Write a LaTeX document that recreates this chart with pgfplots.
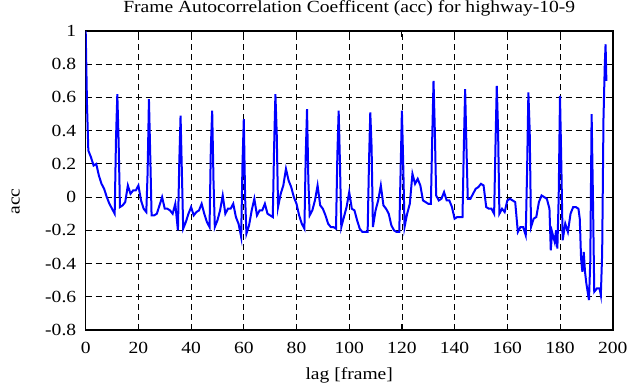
\documentclass[border=0pt]{standalone}
\usepackage{fontspec}
\setmainfont[FakeStretch=1.15]{Liberation Serif}
\usepackage{pgfplots}
\pgfplotsset{compat=1.18}
\pgfplotstableread{
x y
0 1.00
0.5 0.55
1 0.28
2 0.24
3 0.19
4 0.20
5 0.13
6 0.08
7 0.05
8 0.00
9 -0.04
10 -0.07
11 -0.10
11.5 0.35
12 0.62
12.5 0.33
13 -0.06
14 -0.05
15 -0.03
16 0.07
17 0.02
18 0.04
19 0.04
20 0.07
21 -0.02
22 -0.07
23 -0.09
23.5 0.15
24 0.59
24.5 0.25
25 -0.11
26 -0.11
27 -0.10
28 -0.05
29 0.00
30 -0.07
31 -0.07
32 -0.08
33 -0.10
34 -0.04
35 -0.20
35.5 0.20
36 0.49
36.5 0.15
37 -0.19
38 -0.15
39 -0.10
40 -0.06
41 -0.11
42 -0.09
43 -0.08
44 -0.04
45 -0.10
46 -0.15
47 -0.18
47.5 0.30
48 0.52
48.5 0.10
49 -0.18
50 -0.14
51 -0.08
52 0.01
53 -0.10
54 -0.07
55 -0.07
56 -0.04
57 -0.12
58 -0.16
59 -0.24
59.5 0.20
60 0.47
60.5 0.00
61 -0.22
62 -0.17
63 -0.08
64 -0.01
65 -0.11
66 -0.08
67 -0.08
68 -0.04
69 -0.10
70 -0.11
71 -0.12
71.5 0.30
72 0.62
72.5 0.38
73 -0.06
74 0.02
75 0.07
76 0.17
77 0.10
78 0.06
79 0.00
80 -0.04
81 -0.11
82 -0.16
83 -0.19
83.5 0.25
84 0.53
84.5 0.10
85 -0.11
86 -0.08
87 -0.02
88 0.07
89 -0.05
90 -0.07
91 -0.11
92 -0.16
93 -0.18
94 -0.18
95 -0.19
95.5 0.25
96 0.52
96.5 0.20
97 -0.18
98 -0.12
99 -0.06
100 0.03
101 -0.07
102 -0.08
103 -0.14
104 -0.19
105 -0.21
106 -0.21
107 -0.21
107.5 0.20
108 0.51
108.5 0.30
109 -0.18
110 -0.08
111 -0.02
112 0.07
113 -0.05
114 -0.07
115 -0.10
116 -0.17
117 -0.20
118 -0.21
119 -0.21
119.5 0.15
120 0.52
120.5 0.20
121 -0.18
122 -0.10
123 -0.04
124 0.14
125 0.08
126 0.11
127 0.07
128 -0.02
129 -0.03
130 -0.04
131 -0.04
131.5 0.35
132 0.70
132.5 0.40
133 0.01
134 -0.02
135 -0.01
136 0.03
137 -0.02
138 -0.02
139 -0.06
140 -0.13
141 -0.12
142 -0.12
143 -0.12
143.5 0.30
144 0.65
144.5 0.30
145 -0.01
146 -0.01
147 0.02
148 0.05
149 0.06
150 0.08
151 0.07
152 -0.06
153 -0.07
154 -0.07
155 -0.10
155.5 0.30
156 0.67
156.5 0.40
157 -0.10
158 -0.07
159 -0.09
160 -0.02
161 -0.01
162 -0.02
163 -0.03
164 -0.21
165 -0.18
166 -0.18
167 -0.23
167.5 0.15
168 0.63
168.5 0.40
169 -0.18
170 -0.13
171 -0.12
172 -0.03
173 0.01
174 0.00
175 -0.01
176 -0.07
176.5 -0.32
177 -0.21
178 -0.27
178.5 -0.20
179 -0.31
179.5 0.00
180 0.61
180.5 0.20
181 -0.26
182 -0.16
183 -0.21
184 -0.10
185 -0.06
186 -0.06
187 -0.07
187.5 -0.13
188 -0.37
188.5 -0.45
189 -0.33
189.5 -0.45
190 -0.52
191 -0.62
191.5 -0.38
192 0.50
192.5 0.00
193 -0.57
194 -0.55
195 -0.55
195.5 -0.59
196 -0.34
196.5 0.47
197 0.80
197.3 0.92
197.6 0.70
}\acctable
\begin{document}
\begin{tikzpicture}
\begin{axis}[name=ax, scale only axis, width=527pt, height=299pt,
  xmin=0, xmax=200, ymin=-0.8, ymax=1,
  xtick={0,20,40,60,80,100,120,140,160,180,200},
  ytick={-0.8,-0.6,-0.4,-0.2,0,0.2,0.4,0.6,0.8,1},
  /pgf/number format/assume math mode=true,
  yticklabel style={/pgf/number format/fixed},
  tick label style={font=\fontsize{17}{17}\selectfont},
  label style={font=\fontsize{17}{17}\selectfont},
  title style={font=\fontsize{17}{17}\selectfont, at={(axis description cs:0.5,1)}, anchor=base, yshift=12pt},
  xticklabel style={anchor=base, yshift=-24pt},
  yticklabel style={anchor=east, xshift=-6pt},
  xlabel style={at={(axis description cs:0.5,0)}, anchor=base, yshift=-50pt},
  ylabel style={at={(axis description cs:-0.133,0.43)}, anchor=center},
  title={Frame Autocorrelation Coefficent (acc) for highway-10-9},
  xlabel={lag [frame]}, ylabel={acc},
  tick align=inside, major tick length=6pt,
  xtick pos=both, ytick pos=both,
  major tick style={black, line width=1pt},
  axis line style={black, line width=1.6pt},
  grid=major,
  major grid style={black, line width=0.8pt, dash pattern=on 6pt off 4pt},
]
\addplot[blue, line width=2pt, no markers] table[x=x, y=y] {\acctable};
\end{axis}
\pgfresetboundingbox
\path ([shift={(-85.7pt,-57pt)}]ax.south west) rectangle ([shift={(22.3pt,31pt)}]ax.north east);
\end{tikzpicture}
\end{document}
